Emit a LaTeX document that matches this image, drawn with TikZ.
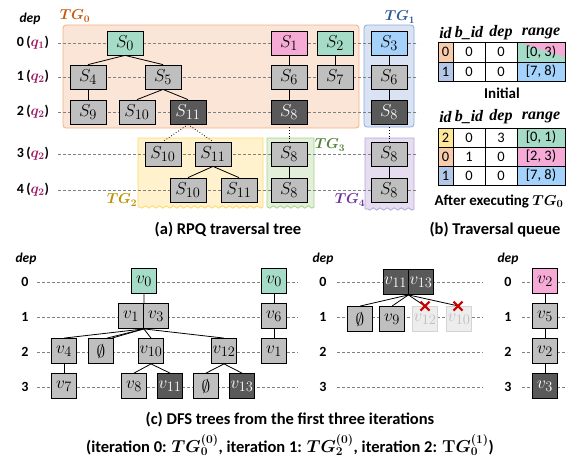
\documentclass[tikz,border=0pt]{standalone}
\usepackage[no-math]{fontspec}
\setsansfont{Carlito}
\newfontfamily\hdrfont{Liberation Serif}
\usepackage{bm}
\usetikzlibrary{decorations.pathmorphing}

\definecolor{ofill}{RGB}{251,229,214}
\definecolor{odraw}{RGB}{244,177,131}
\definecolor{olab}{RGB}{197,90,17}
\definecolor{bfill}{RGB}{218,227,243}
\definecolor{bdraw}{RGB}{143,170,220}
\definecolor{blab}{RGB}{47,85,151}
\definecolor{yfill}{RGB}{255,242,204}
\definecolor{ydraw}{RGB}{255,217,102}
\definecolor{ylab}{RGB}{191,144,0}
\definecolor{gfill}{RGB}{226,240,217}
\definecolor{gdraw}{RGB}{169,209,142}
\definecolor{glab}{RGB}{83,129,53}
\definecolor{pfill}{RGB}{230,222,240}
\definecolor{pdraw}{RGB}{180,167,214}
\definecolor{plab}{RGB}{112,48,160}
\definecolor{mint}{RGB}{165,220,200}
\definecolor{pinkc}{RGB}{246,170,214}
\definecolor{sky}{RGB}{165,210,250}
\definecolor{ngray}{RGB}{191,191,191}
\definecolor{ndark}{RGB}{89,89,89}
\definecolor{qcol}{RGB}{160,30,100}
\definecolor{idor}{RGB}{248,203,173}
\definecolor{idbl}{RGB}{180,199,231}
\definecolor{idye}{RGB}{255,230,153}
\definecolor{fadef}{RGB}{237,237,237}
\definecolor{faded}{RGB}{212,212,212}
\definecolor{fadet}{RGB}{190,190,190}
\definecolor{xred}{RGB}{204,0,0}

\tikzset{
  anode/.style={draw, line width=0.8pt, minimum width=36pt, minimum height=24pt, inner sep=0pt, fill=ngray, font=\fontsize{19}{19}\selectfont},
  adark/.style={anode, fill=ndark, text=white},
  cnode/.style={draw, line width=0.8pt, minimum width=25pt, minimum height=25pt, inner sep=0pt, fill=ngray, font=\fontsize{19}{19}\selectfont},
  cdark/.style={cnode, fill=ndark, text=white},
  cfade/.style={cnode, fill=fadef, draw=faded, text=fadet},
  rowline/.style={gray, line width=0.6pt, dash pattern=on 3pt off 2pt},
  edge/.style={line width=0.8pt},
  dotedge/.style={line width=0.8pt, dotted},
  rowlab/.style={font=\sffamily\bfseries\fontsize{14}{14}\selectfont},
  deplab/.style={font=\sffamily\bfseries\itshape\fontsize{13.5}{13.5}\selectfont},
  tglab/.style={font=\fontsize{14}{14}\selectfont},
  capt/.style={font=\sffamily\bfseries\fontsize{16.5}{17}\selectfont},
  subcapt/.style={font=\sffamily\bfseries\fontsize{15}{15}\selectfont},
  cell/.style={font=\sffamily\fontsize{14.5}{14.5}\selectfont},
  hdr/.style={font=\hdrfont\bfseries\itshape\fontsize{16}{16}\selectfont},
  wave/.style={decoration={snake, amplitude=1.2pt, segment length=7pt}},
  xmark/.style={xred, line width=2.2pt},
}

\begin{document}
\begin{tikzpicture}[x=1pt,y=-1pt]
\useasboundingbox (0,0) rectangle (581,469);

% ---------- (a) group boxes ----------
\draw[fill=ofill, draw=odraw, line width=0.8pt, rounded corners=3pt] (63,25) rectangle (359,128);
\draw[fill=bfill, draw=bdraw, line width=0.8pt, rounded corners=3pt] (364,25) rectangle (414,127);
\draw[fill=yfill, draw=ydraw, line width=0.8pt, wave] (138,207) -- (138,138) -- (263,138) -- (263,207) decorate {-- (138,207)};
\draw[fill=gfill, draw=gdraw, line width=0.8pt, wave] (267,207) -- (267,138) -- (314,138) -- (314,207) decorate {-- (267,207)};
\draw[fill=pfill, draw=pdraw, line width=0.8pt, wave] (365,209) -- (365,138) -- (414,138) -- (414,209) decorate {-- (365,209)};

\node[tglab, text=olab] (tg0) at (75,16) {$\bm{TG_0}$};
\node[tglab, text=blab] (tg1) at (400,17) {$\bm{TG_1}$};
\node[tglab, text=ylab] (tg2) at (122,200) {$\bm{TG_2}$};
\node[tglab, text=glab] (tg3) at (330,145) {$\bm{TG_3}$};
\node[tglab, text=plab] (tg4) at (350,200) {$\bm{TG_4}$};

% ---------- (a) rows ----------
\node[deplab] (depa) at (30,19) {dep};
\foreach \r/\y/\q in {0/43/1,1/77/2,2/112/2,3/154/2,4/190/2}{
  \node[rowlab] (ra\r) at (33,\y) {\r\,(\textcolor{qcol}{$\bm{q_{\q}}$})};
  \coordinate (ral\r) at (58,\y);
  \coordinate (rar\r) at (418,\y);
  \draw[rowline] (ral\r) -- (rar\r);
}

% ---------- (a) nodes ----------
\node[anode, fill=mint] (s0) at (125,43) {$S_0$};
\node[anode] (s4) at (88,77) {$S_4$};
\node[anode] (s5) at (163,77) {$S_5$};
\node[anode] (s9) at (88,112) {$S_9$};
\node[anode] (s10) at (137,112) {$S_{10}$};
\node[adark] (s11) at (188,112) {$S_{11}$};
\node[anode, fill=pinkc] (s1) at (289,43) {$S_1$};
\node[anode, fill=mint] (s2) at (335,43) {$S_2$};
\node[anode] (s6a) at (289,77) {$S_6$};
\node[anode] (s7) at (335,77) {$S_7$};
\node[adark] (s8a) at (289,112) {$S_8$};
\node[anode, fill=sky] (s3) at (389,43) {$S_3$};
\node[anode] (s6b) at (389,77) {$S_6$};
\node[adark] (s8b) at (389,112) {$S_8$};
\node[anode] (s10c) at (163,154) {$S_{10}$};
\node[anode] (s11c) at (213,154) {$S_{11}$};
\node[anode] (s10d) at (188,190) {$S_{10}$};
\node[anode] (s11d) at (239,190) {$S_{11}$};
\node[anode] (s8c) at (289,154) {$S_8$};
\node[anode] (s8d) at (289,190) {$S_8$};
\node[anode] (s8e) at (389,154) {$S_8$};
\node[anode] (s8f) at (389,190) {$S_8$};

\draw[edge] (s0.south) -- (s4.north);
\draw[edge] (s0.south) -- (s5.north);
\draw[edge] (s4.south) -- (s9.north);
\draw[edge] (s5.south) -- (s10.north);
\draw[edge] (s5.south) -- (s11.north);
\draw[edge] (s1.south) -- (s6a.north);
\draw[edge] (s6a.south) -- (s8a.north);
\draw[edge] (s2.south) -- (s7.north);
\draw[edge] (s3.south) -- (s6b.north);
\draw[edge] (s6b.south) -- (s8b.north);
\draw[dotedge] (s11.south) -- (s10c.north);
\draw[dotedge] (s11.south) -- (s11c.north);
\draw[edge] (s11c.south) -- (s10d.north);
\draw[edge] (s11c.south) -- (s11d.north);
\draw[dotedge] (s8a.south) -- (s8c.north);
\draw[edge] (s8c.south) -- (s8d.north);
\draw[dotedge] (s8b.south) -- (s8e.north);
\draw[edge] (s8e.south) -- (s8f.north);

\node[capt] (capa) at (228,230) {(a) RPQ traversal tree};

% ---------- (b) tables ----------
\foreach \yy/\k in {33/a,117/b}{
  \node[hdr] (hid\k) at (445.5,\yy) {id};
  \node[hdr] (hbid\k) at (469,\yy) {b\_id};
  \node[hdr] (hdep\k) at (501,\yy) {dep};
  \node[hdr] (hrange\k) at (541,\yy) {range};
}
\fill[idor] (438,42) rectangle (453,62);
\fill[idbl] (438,62) rectangle (453,81);
\fill[mint] (517,42) rectangle (565,62);
\fill[pinkc] (518,42) -- (565,42) -- (565,57) -- cycle;
\fill[sky] (517,62) rectangle (565,81);
\draw[line width=0.8pt] (438,42) rectangle (565,81);
\draw[line width=0.8pt] (438,62) -- (565,62);
\foreach \xx in {453,485,517}{ \draw[line width=0.8pt] (\xx,42) -- (\xx,81); }
\node[cell] (t1a) at (445.5,52) {0};
\node[cell] (t1b) at (469,52) {0};
\node[cell] (t1c) at (501,52) {0};
\node[cell] (t1d) at (541,52) {[0, 3)};
\node[cell] (t1e) at (445.5,71.5) {1};
\node[cell] (t1f) at (469,71.5) {0};
\node[cell] (t1g) at (501,71.5) {0};
\node[cell] (t1h) at (541,71.5) {[7, 8)};
\node[subcapt] (init) at (502,93) {Initial};

\fill[idye] (438,128) rectangle (453,147);
\fill[idor] (438,147) rectangle (453,166);
\fill[idbl] (438,166) rectangle (453,185);
\fill[mint] (517,128) rectangle (565,147);
\fill[pinkc] (517,147) rectangle (565,166);
\fill[sky] (517,166) rectangle (565,185);
\draw[line width=0.8pt] (438,128) rectangle (565,185);
\draw[line width=0.8pt] (438,147) -- (565,147);
\draw[line width=0.8pt] (438,166) -- (565,166);
\foreach \xx in {453,485,517}{ \draw[line width=0.8pt] (\xx,128) -- (\xx,185); }
\node[cell] (t2a) at (445.5,137.5) {2};
\node[cell] (t2b) at (469,137.5) {0};
\node[cell] (t2c) at (501,137.5) {3};
\node[cell] (t2d) at (541,137.5) {[0, 1)};
\node[cell] (t2e) at (445.5,156.5) {0};
\node[cell] (t2f) at (469,156.5) {1};
\node[cell] (t2g) at (501,156.5) {0};
\node[cell] (t2h) at (541,156.5) {[2, 3)};
\node[cell] (t2i) at (445.5,175.5) {1};
\node[cell] (t2j) at (469,175.5) {0};
\node[cell] (t2k) at (501,175.5) {0};
\node[cell] (t2l) at (541,175.5) {[7, 8)};
\node[subcapt] (after) at (499,201) {After executing $\bm{TG_0}$};

\node[capt] (capb) at (495,230) {(b) Traversal queue};

% ---------- (c) rows ----------
\node[deplab] (dep1) at (26,259) {dep};
\node[deplab] (dep2) at (323,259) {dep};
\node[deplab] (dep3) at (508,259) {dep};
\foreach \r/\y in {0/282,1/317,2/352,3/387}{
  \node[rowlab] (ca\r) at (25,\y) {\r};
  \node[rowlab] (cb\r) at (323,\y) {\r};
  \node[rowlab] (cc\r) at (508,\y) {\r};
  \draw[rowline] (37,\y) -- (298,\y);
  \draw[rowline] (337,\y) -- (483,\y);
  \draw[rowline] (522,\y) -- (567,\y);
}

% ---------- (c) left trees ----------
\node[cnode, fill=mint] (v0) at (144,281) {$v_0$};
\node[cnode] (v1) at (131,316) {$v_1$};
\node[cnode] (v3) at (156,316) {$v_3$};
\node[cnode] (v4) at (64,351) {$v_4$};
\node[cnode] (e1) at (101,351) {$\emptyset$};
\node[cnode] (v10) at (151,351) {$v_{10}$};
\node[cnode] (v12) at (224,351) {$v_{12}$};
\node[cnode] (v7) at (64,386) {$v_7$};
\node[cnode] (v8) at (134,386) {$v_8$};
\node[cdark] (v11) at (170,386) {$v_{11}$};
\node[cnode] (e2) at (206,386) {$\emptyset$};
\node[cdark] (v13) at (242,386) {$v_{13}$};
\draw[edge] (v0.south) -- (v1.north east);
\draw[edge] (v1.south east) -- (v4.north);
\draw[edge] (v1.south east) -- ([xshift=6pt]e1.north);
\draw[edge] (v1.south east) -- ([xshift=11pt]e1.north);
\draw[edge] (v1.south east) -- (v10.north);
\draw[edge] (v1.south east) -- (v12.north);
\draw[edge] (v4.south) -- (v7.north);
\draw[edge] (v10.south) -- (v8.north);
\draw[edge] (v10.south) -- (v11.north);
\draw[edge] (v12.south) -- (e2.north);
\draw[edge] (v12.south) -- (v13.north);

\node[cnode, fill=mint] (w0) at (274,281) {$v_0$};
\node[cnode] (w6) at (274,316) {$v_6$};
\node[cnode] (w1) at (274,351) {$v_1$};
\draw[edge] (w0.south) -- (w6.north);
\draw[edge] (w6.south) -- (w1.north);

% ---------- (c) middle tree ----------
\node[cdark] (m11) at (395.5,282) {$v_{11}$};
\node[cdark] (m13) at (421,282) {$v_{13}$};
\node[cnode] (me) at (360,319) {$\emptyset$};
\node[cnode] (m9) at (392,319) {$v_9$};
\node[cfade] (m12) at (425,319) {$v_{12}$};
\node[cfade] (m10) at (459,319) {$v_{10}$};
\draw[edge] (m11.south east) -- (me.north);
\draw[edge] (m11.south east) -- (m9.north);
\draw[edge] (m11.south east) -- (m12.north);
\draw[edge] (m11.south east) -- (m10.north);
\draw[xmark] ([shift={(-4.5,-4.5)}]m12.north) -- ([shift={(4.5,4.5)}]m12.north);
\draw[xmark] ([shift={(-4.5,4.5)}]m12.north) -- ([shift={(4.5,-4.5)}]m12.north);
\draw[xmark] ([shift={(-5.5,-4.5)}]m10.north) -- ([shift={(3.5,4.5)}]m10.north);
\draw[xmark] ([shift={(-5.5,4.5)}]m10.north) -- ([shift={(3.5,-4.5)}]m10.north);

% ---------- (c) right tree ----------
\node[cnode, fill=pinkc] (r2) at (545,281) {$v_2$};
\node[cnode] (r5) at (545,316) {$v_5$};
\node[cnode] (r2b) at (545,351) {$v_2$};
\node[cdark] (r3) at (545,386) {$v_3$};
\draw[edge] (r2.south) -- (r5.north);
\draw[edge] (r5.south) -- (r2b.north);
\draw[edge] (r2b.south) -- (r3.north);

% ---------- (c) captions ----------
\node[capt] (capc) at (290,420) {(c) DFS trees from the first three iterations};
\node[capt] (capc2) at (290,445) {(iteration 0: $\bm{TG_0^{(0)}}$, iteration 1: $\bm{TG_2^{(0)}}$, iteration 2: $\mathbf{T}\bm{G_0^{(1)}}$)};
\end{tikzpicture}
\end{document}
